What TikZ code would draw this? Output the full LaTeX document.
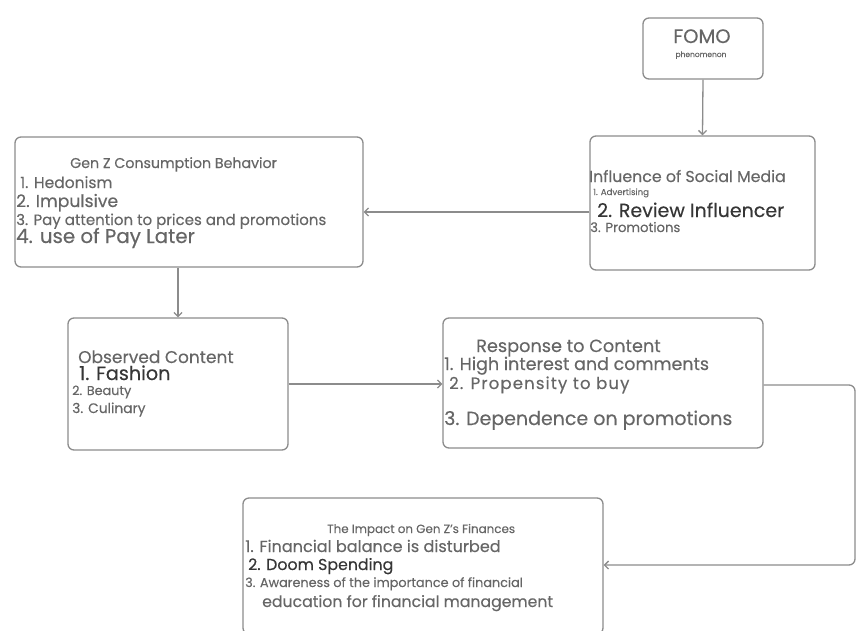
\documentclass[tikz,border=0pt]{standalone}
\usepackage{fontspec}
\setmainfont{Poppins}[FakeBold=0.35]
\usetikzlibrary{arrows.meta}

\definecolor{linegray}{HTML}{8C8C8C}
\definecolor{textgray}{HTML}{666666}
\definecolor{darkgray}{HTML}{363636}

\newcommand{\txtsize}[1]{\fontsize{#1}{#1}\selectfont}

\tikzset{
  stagebox/.style={draw=linegray, line width=1.3pt, rounded corners=6pt, inner sep=0pt},
  line/.style={anchor=base west, inner sep=0pt, text=textgray},
  flow/.style={draw=linegray, line width=1.3pt, -{Straight Barb[length=4pt,width=8pt]}}
}

\begin{document}
\begin{tikzpicture}[x=1pt, y=-1pt]
  \useasboundingbox (0,0) rectangle (857,630);
  \clip (0,0) rectangle (857,630);

  % Drawing box FOMO
  \node (fomo) [stagebox, minimum width=120pt, minimum height=61pt] at (703,48.5) {};
  \node (fomotitle) [anchor=base, inner sep=0pt, text=textgray] at (702,43) {\txtsize{19.5}FOMO};
  \node (fomosub) [anchor=base, inner sep=0pt, text=textgray] at (701,57) {\txtsize{7.5}phenomenon};

  % Drawing box social media
  \node (social) [stagebox, minimum width=225pt, minimum height=134pt] at (702.5,203) {};
  \node [line] at (589,182) {\txtsize{15.8}Influence of Social Media};
  \node [line] at (593,195) {\txtsize{8.6}1. Advertising};
  \node [line, text=darkgray] at (597,217) {\txtsize{19}2. Review Influencer};
  \node [line] at (590,232) {\txtsize{13.2}3. Promotions};

  % Drawing box Gen Z behavior
  \node (genz) [stagebox, minimum width=348pt, minimum height=130pt] at (189,202) {};
  \node [line] at (70,168) {\txtsize{14.2}Gen Z Consumption Behavior};
  \node [line] at (20,188) {\txtsize{15.5}1. Hedonism};
  \node [line] at (16,207) {\txtsize{17.2}2. Impulsive};
  \node [line] at (16,225) {\txtsize{15}3. Pay attention to prices and promotions};
  \node [line] at (16,243) {\txtsize{19.8}4. use of Pay Later};

  % Drawing box observed content
  \node (observed) [stagebox, minimum width=220pt, minimum height=132pt] at (178,384) {};
  \node [line] at (78,363) {\txtsize{17}Observed Content};
  \node [line, text=darkgray] at (79,380) {\txtsize{19.2}1. Fashion};
  \node [line] at (72,395) {\txtsize{12.8}2. Beauty};
  \node [line] at (72,413) {\txtsize{13.8}3. Culinary};

  % Drawing box response
  \node (response) [stagebox, minimum width=320pt, minimum height=130pt] at (603,383) {};
  \node [line] at (476,352) {\txtsize{17.7}Response to Content};
  \node [line] at (444,370) {\txtsize{17.5}1. High interest and comments};
  \node [line] at (449,389) {\txtsize{16.5}\addfontfeatures{LetterSpace=7}2. Propensity to buy};
  \node [line] at (444,425) {\txtsize{19}3. Dependence on promotions};

  % Drawing box impact
  \node (impact) [stagebox, minimum width=360pt, minimum height=136pt] at (423,566) {};
  \node [line] at (327,533) {\txtsize{11.9}The Impact on Gen Z's Finances};
  \node [line] at (245,552) {\txtsize{16.1}1. Financial balance is disturbed};
  \node [line, text=darkgray] at (248,570) {\txtsize{15.8}2. Doom Spending};
  \node [line] at (245,587) {\txtsize{12.8}3. Awareness of the importance of financial};
  \node [line] at (262,607) {\txtsize{15.7}education for financial management};

  % Drawing connectors
  \coordinate (bend) at (855,565);
  \draw [flow] (fomo.south) -- (social.north);
  \draw [flow] ([yshift=-9pt]social.west) -- ([yshift=-10pt]genz.east);
  \draw [flow] (genz.south -| observed.north) -- (observed.north);
  \draw [flow] (observed.east) -- (observed.east -| response.west);
  \draw [flow, rounded corners=6pt] ([yshift=-2pt]response.east) -| (bend) -- (bend -| impact.east);
\end{tikzpicture}
\end{document}
